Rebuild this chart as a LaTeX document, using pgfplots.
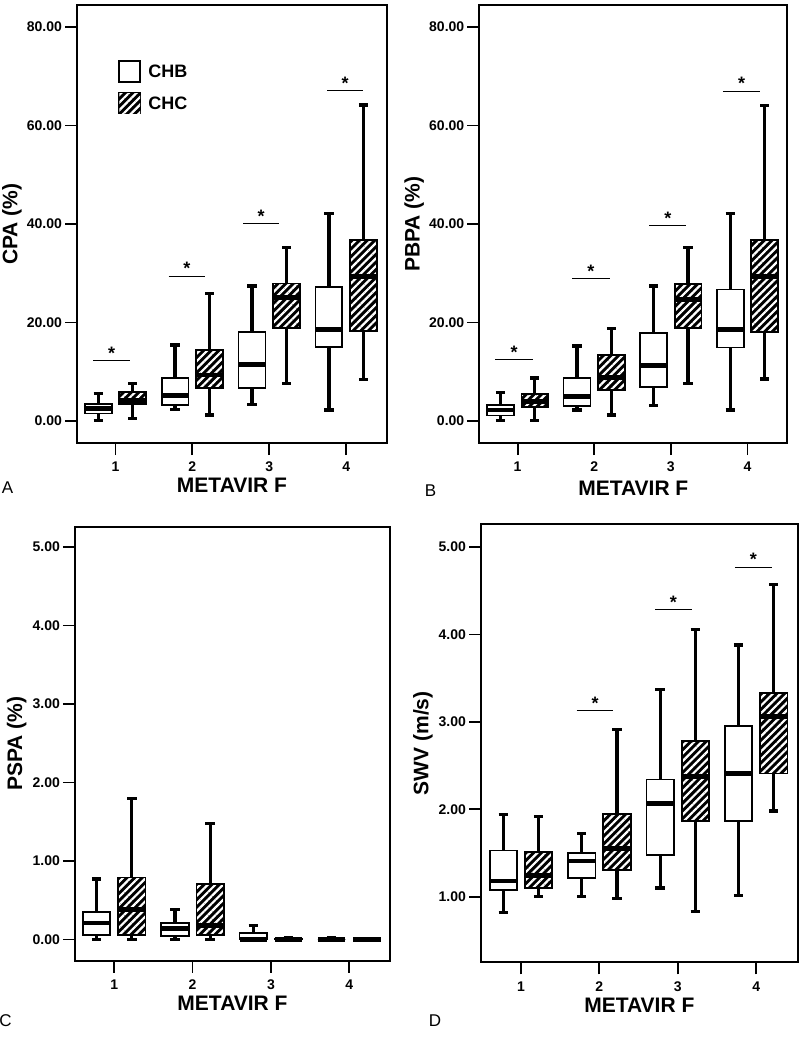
\documentclass[border=0pt]{standalone}
\usepackage{pgfplots}
\pgfplotsset{compat=1.18}
\usepgfplotslibrary{statistics}
\usepackage{fontspec}
\setmainfont{Liberation Sans}
\usetikzlibrary{patterns.meta}
\tikzset{
  hatch/.style={fill=black, postaction={pattern={Lines[angle=45,distance=2.7pt,line width=1.1pt]}, pattern color=white}},
}
\pgfplotsset{
  panel/.style={scale only axis, xtick={1,2,3,4},
    axis line style={line width=1pt}, tick style={line width=0.9pt, black},
    tick align=outside, tick pos=left, major tick length=6pt,
    ticklabel style={font=\bfseries\fontsize{7}{8}\selectfont},
    yticklabel style={xshift=2pt},
    /pgf/number format/assume math mode=true,
    y tick label style={/pgf/number format/fixed, /pgf/number format/fixed zerofill, /pgf/number format/precision=2},
    label style={font=\bfseries\fontsize{10.5}{12}\selectfont, inner sep=0pt},
    xlabel={METAVIR F},
    boxplot/draw direction=y,
    boxplot/box extend=0.35, boxplot/whisker extend=0.12, clip=false},
  chb/.style={draw=black, line width=0.9pt,
    boxplot/every box/.style={fill=white, line width=0.9pt},
    boxplot/every whisker/.style={line width=1.6pt},
    boxplot/every median/.style={line width=2.4pt}},
  chc/.style={draw=black, line width=0.9pt,
    boxplot/every box/.style={hatch, line width=0.9pt},
    boxplot/every whisker/.style={line width=1.6pt},
    boxplot/every median/.style={line width=2.4pt}},
  sig/.style={black, line width=0.5pt},
}
\newcommand{\bx}[7]{\addplot[#1, boxplot prepared={draw position=#2, lower whisker=#3, lower quartile=#4, median=#5, upper quartile=#6, upper whisker=#7}] coordinates {};}
\newcommand{\sigbar}[3]{\addplot[sig] coordinates {(#1,#3) (#2,#3)};
  \node[anchor=base, yshift=0.6pt, font=\bfseries\fontsize{9}{10}\selectfont, inner sep=0pt] at (axis cs:{(#1+#2)/2},#3) {*};}
\begin{document}
\begin{tikzpicture}
\path[use as bounding box] (0,0) rectangle (400pt,-519.5pt);
% ---------- A ----------
\begin{axis}[panel, at={(38.5pt,-2.5pt)}, anchor=north west, width=155pt, height=219pt,
  xmin=0.5, xmax=4.53, ymin=-4.5, ymax=84.5, ytick={0,20,40,60,80},
  ylabel={CPA (\%)},
  xlabel style={at={(axis description cs:0.5,-0.096)}, anchor=center},
  ylabel style={at={(axis description cs:-0.21,0.5)}, anchor=center}]
\bx{chb}{0.775}{0.1}{1.5}{2.5}{3.5}{5.6}
\bx{chc}{1.225}{0.5}{3.4}{4.2}{5.8}{7.6}
\bx{chb}{1.775}{2.3}{3.3}{5.1}{8.7}{15.4}
\bx{chc}{2.225}{1.2}{6.7}{9.3}{14.4}{25.9}
\bx{chb}{2.775}{3.4}{6.7}{11.5}{18.0}{27.4}
\bx{chc}{3.225}{7.6}{18.9}{25.0}{27.9}{35.3}
\bx{chb}{3.775}{2.2}{15.0}{18.6}{27.2}{42.1}
\bx{chc}{4.225}{8.4}{18.2}{29.4}{36.7}{64.2}
\sigbar{0.71}{1.19}{12.2}
\sigbar{1.69}{2.17}{29.4}
\sigbar{2.66}{3.13}{40.1}
\sigbar{3.75}{4.22}{67.1}
\end{axis}
% legend
\draw[line width=0.9pt, fill=white] (59.65pt,-30.35pt) rectangle (70pt,-40.85pt);
\draw[line width=0.9pt, hatch] (59.65pt,-46.65pt) rectangle (70pt,-56.65pt);
\node[anchor=west, inner sep=0pt, font=\bfseries\fontsize{9}{10}\selectfont] at (74pt,-35.6pt) {CHB};
\node[anchor=west, inner sep=0pt, font=\bfseries\fontsize{9}{10}\selectfont] at (74pt,-51.6pt) {CHC};
% ---------- B ----------
\begin{axis}[panel, at={(239.65pt,-2.5pt)}, anchor=north west, width=154pt, height=219pt,
  xmin=0.5, xmax=4.52, ymin=-4.5, ymax=84.5, ytick={0,20,40,60,80},
  ylabel={PBPA (\%)},
  xlabel style={at={(axis description cs:0.5,-0.104)}, anchor=center},
  ylabel style={at={(axis description cs:-0.211,0.5)}, anchor=center}]
\bx{chb}{0.775}{0}{1.1}{2.2}{3.2}{5.8}
\bx{chc}{1.225}{0}{2.8}{3.9}{5.4}{8.7}
\bx{chb}{1.775}{2.2}{3.0}{4.9}{8.7}{15.2}
\bx{chc}{2.225}{1.2}{6.3}{8.8}{13.4}{18.8}
\bx{chb}{2.775}{3.2}{6.8}{11.2}{17.9}{27.4}
\bx{chc}{3.225}{7.6}{18.8}{24.7}{27.8}{35.2}
\bx{chb}{3.775}{2.2}{14.9}{18.5}{26.7}{42.1}
\bx{chc}{4.225}{8.5}{18.1}{29.3}{36.7}{64.1}
\sigbar{0.71}{1.20}{12.4}
\sigbar{1.71}{2.20}{28.9}
\sigbar{2.72}{3.20}{39.6}
\sigbar{3.68}{4.17}{67.0}
\end{axis}
% ---------- C ----------
\begin{axis}[panel, at={(37.5pt,-263.35pt)}, anchor=north west, width=157.5pt, height=217pt,
  xmin=0.5, xmax=4.52, ymin=-0.27, ymax=5.26, ytick={0,1,2,3,4,5},
  ylabel={PSPA (\%)},
  xlabel style={at={(axis description cs:0.5,-0.0975)}, anchor=center},
  ylabel style={at={(axis description cs:-0.185,0.5)}, anchor=center}]
\bx{chb}{0.775}{0}{0.06}{0.21}{0.35}{0.77}
\bx{chc}{1.225}{0}{0.06}{0.38}{0.79}{1.80}
\bx{chb}{1.775}{0}{0.04}{0.14}{0.21}{0.38}
\bx{chc}{2.225}{0}{0.06}{0.18}{0.71}{1.48}
\bx{chb}{2.775}{0}{0}{0}{0.08}{0.18}
\bx{chc}{3.225}{0}{0}{0}{0.01}{0.03}
\bx{chb}{3.775}{0}{0}{0}{0}{0.02}
\bx{chc}{4.225}{0}{0}{0}{0}{0}
\end{axis}
% ---------- D ----------
\begin{axis}[panel, at={(240.5pt,-262.15pt)}, anchor=north west, width=158.35pt, height=219pt,
  xmin=0.49, xmax=4.53, ymin=0.25, ymax=5.26, ytick={1,2,3,4,5},
  ylabel={SWV (m/s)},
  xlabel style={at={(axis description cs:0.5,-0.0975)}, anchor=center},
  ylabel style={at={(axis description cs:-0.183,0.5)}, anchor=center}]
\bx{chb}{0.775}{0.82}{1.08}{1.18}{1.53}{1.94}
\bx{chc}{1.225}{1.00}{1.10}{1.24}{1.51}{1.92}
\bx{chb}{1.775}{1.00}{1.21}{1.41}{1.50}{1.72}
\bx{chc}{2.225}{0.98}{1.31}{1.55}{1.95}{2.91}
\bx{chb}{2.775}{1.10}{1.48}{2.07}{2.34}{3.37}
\bx{chc}{3.225}{0.83}{1.87}{2.38}{2.78}{4.06}
\bx{chb}{3.775}{1.01}{1.87}{2.41}{2.95}{3.88}
\bx{chc}{4.225}{1.98}{2.41}{3.06}{3.33}{4.57}
\sigbar{1.71}{2.18}{3.13}
\sigbar{2.71}{3.18}{4.28}
\sigbar{3.73}{4.20}{4.77}
\end{axis}
% panel letters
\node[font=\fontsize{8.5}{10}\selectfont, inner sep=0pt] at (3.75pt,-244pt) {A};
\node[font=\fontsize{8.5}{10}\selectfont, inner sep=0pt] at (215.25pt,-245.5pt) {B};
\node[font=\fontsize{8.5}{10}\selectfont, inner sep=0pt] at (2.8pt,-510.5pt) {C};
\node[font=\fontsize{8.5}{10}\selectfont, inner sep=0pt] at (217.5pt,-510.5pt) {D};
\end{tikzpicture}
\end{document}
